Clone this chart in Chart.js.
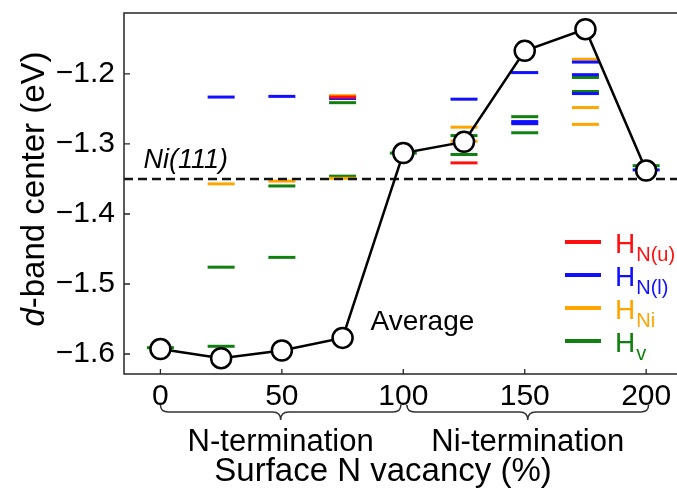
<!DOCTYPE html>
<html>
<head>
<meta charset="utf-8">
<script src="https://cdn.jsdelivr.net/npm/chart.js@4/dist/chart.umd.min.js"></script>
<style>
  html, body { margin: 0; padding: 0; background: #fff; }
  #wrap { position: relative; width: 677px; height: 488px; }
</style>
</head>
<body>
<div id="wrap"><canvas id="c" width="677" height="488"></canvas></div>
<script>
// Surface N vacancy (%) and the averaged d-band centre (eV)
const VACANCY = [0, 25, 50, 75, 100, 125, 150, 175, 200];
const AVERAGE = [-1.593, -1.606, -1.595, -1.577, -1.313, -1.297, -1.167, -1.136, -1.338];

// d-band centre for each H adsorption site, one short bar per configuration
const HNU_X = [75, 125];
const HNU_Y = [-1.233, -1.327];
const HNL_X = [25, 50, 75, 125, 150, 150, 150, 175, 175, 175, 200];
const HNL_Y = [-1.233, -1.232, -1.235, -1.236, -1.198, -1.268, -1.271, -1.183, -1.201, -1.228, -1.337];
const HNI_X = [25, 50, 75, 75, 125, 125, 175, 175, 175];
const HNI_Y = [-1.357, -1.353, -1.231, -1.349, -1.276, -1.296, -1.179, -1.248, -1.272];
const HV_X = [0, 25, 25, 50, 50, 75, 75, 100, 125, 125, 150, 150, 175, 175, 200];
const HV_Y = [-1.591, -1.476, -1.589, -1.360, -1.462, -1.241, -1.346, -1.313, -1.288, -1.315, -1.261, -1.284, -1.205, -1.225, -1.331];

// Ni(111) reference level
const NI111 = -1.35;

const X_TICKS = [0, 50, 100, 150, 200];
const Y_TICKS = [-1.6, -1.5, -1.4, -1.3, -1.2];

const SITE_SUBS = ['N(u)', 'N(l)', 'Ni', 'v'];
const SITE_COLORS = ['#ff1010', '#1010ff', '#ffa500', '#108010'];

const GROUP_NAMES = ['N-termination', 'Ni-termination'];
const GROUP_SPANS = [[0, 99], [101.5, 201]];

const FONT = "'Liberation Sans', Arial, Helvetica, sans-serif";

const pts = (xs, ys) => xs.map((x, i) => ({ x: x, y: ys[i] }));

function siteSet(label, xs, ys, color) {
  return {
    label: label,
    type: 'scatter',
    data: pts(xs, ys),
    pointStyle: 'line',
    pointRadius: 13.5,
    pointHoverRadius: 13.5,
    pointBorderWidth: 3,
    pointBorderColor: color,
    pointBackgroundColor: color,
    borderColor: color,
    showLine: false
  };
}

// keep the plot box exactly where the axes put it
function noPad(s) {
  s.paddingTop = 0;
  s.paddingBottom = 0;
  s.paddingLeft = 0;
  s.paddingRight = 0;
}

const decor = {
  id: 'decor',
  beforeDatasetDraw(chart, args) {
    if (args.index !== 0) return;
    // dashed Ni(111) reference, under the average curve
    const { ctx, chartArea: a, scales: { y } } = chart;
    const py = y.getPixelForValue(NI111);
    ctx.save();
    ctx.strokeStyle = '#111';
    ctx.lineWidth = 2.5;
    ctx.setLineDash([9, 5]);
    ctx.beginPath();
    ctx.moveTo(a.left, py);
    ctx.lineTo(a.right, py);
    ctx.stroke();
    ctx.restore();
  },
  afterDraw(chart) {
    const { ctx, chartArea: a, scales: { x, y } } = chart;
    ctx.save();

    // frame
    ctx.strokeStyle = '#262626';
    ctx.lineWidth = 1.5;
    ctx.beginPath();
    ctx.moveTo(a.right, a.top);
    ctx.lineTo(a.left, a.top);
    ctx.lineTo(a.left, a.bottom);
    ctx.lineTo(a.right, a.bottom);
    ctx.stroke();

    // inward tick marks
    ctx.lineWidth = 1.3;
    ctx.beginPath();
    Y_TICKS.forEach(v => {
      const py = y.getPixelForValue(v);
      ctx.moveTo(a.left, py);
      ctx.lineTo(a.left + 6, py);
    });
    X_TICKS.forEach(v => {
      const px = x.getPixelForValue(v);
      ctx.moveTo(px, a.bottom);
      ctx.lineTo(px, a.bottom - 5);
    });
    ctx.stroke();

    ctx.fillStyle = '#000';
    ctx.textBaseline = 'alphabetic';

    // Ni(111) label
    ctx.font = 'italic 27px ' + FONT;
    ctx.textAlign = 'left';
    ctx.fillText('Ni(111)', x.getPixelForValue(-7), y.getPixelForValue(NI111) - 11);

    // Average label
    ctx.font = '28px ' + FONT;
    ctx.fillText('Average', x.getPixelForValue(86.5), y.getPixelForValue(-1.566));

    // legend with subscripted site names
    const lx0 = a.right - 112, lx1 = a.right - 76, tx = a.right - 62;
    SITE_SUBS.forEach((sub, i) => {
      const ry = a.top + 229 + i * 33;
      ctx.strokeStyle = SITE_COLORS[i];
      ctx.lineWidth = 4;
      ctx.beginPath();
      ctx.moveTo(lx0, ry);
      ctx.lineTo(lx1, ry);
      ctx.stroke();
      ctx.fillStyle = SITE_COLORS[i];
      ctx.font = '28px ' + FONT;
      ctx.fillText('H', tx, ry + 11);
      const hw = ctx.measureText('H').width;
      ctx.font = '20px ' + FONT;
      ctx.fillText(sub, tx + hw + 1, ry + 19);
    });

    // braces and termination groups under the x axis
    ctx.strokeStyle = '#333';
    ctx.lineWidth = 1.5;
    ctx.fillStyle = '#000';
    GROUP_SPANS.forEach((span, i) => {
      const x0 = x.getPixelForValue(span[0]);
      const x1 = x.getPixelForValue(span[1]);
      const xm = (x0 + x1) / 2;
      const yTop = a.bottom + 31, yMid = a.bottom + 38, yTip = a.bottom + 46;
      const q = 8;
      ctx.beginPath();
      ctx.moveTo(x0, yTop);
      ctx.quadraticCurveTo(x0, yMid, x0 + q, yMid);
      ctx.lineTo(xm - q, yMid);
      ctx.quadraticCurveTo(xm, yMid, xm, yTip);
      ctx.quadraticCurveTo(xm, yMid, xm + q, yMid);
      ctx.lineTo(x1 - q, yMid);
      ctx.quadraticCurveTo(x1, yMid, x1, yTop);
      ctx.stroke();

      ctx.font = '31px ' + FONT;
      ctx.textAlign = 'center';
      ctx.fillText(GROUP_NAMES[i], xm, a.bottom + 77);
    });

    // x axis title
    ctx.font = '33px ' + FONT;
    ctx.textAlign = 'center';
    ctx.fillText('Surface N vacancy (%)', 383, a.bottom + 107);

    // y axis title, italic d
    ctx.save();
    ctx.translate(44, 189);
    ctx.rotate(-Math.PI / 2);
    ctx.font = 'italic 33px ' + FONT;
    const wd = ctx.measureText('d').width;
    ctx.font = '33px ' + FONT;
    const wr = ctx.measureText('-band center (eV)').width;
    const start = -(wd + wr) / 2;
    ctx.textAlign = 'left';
    ctx.font = 'italic 33px ' + FONT;
    ctx.fillText('d', start, 0);
    ctx.font = '33px ' + FONT;
    ctx.fillText('-band center (eV)', start + wd, 0);
    ctx.restore();

    ctx.restore();
  }
};

new Chart(document.getElementById('c'), {
  type: 'scatter',
  data: {
    datasets: [
      {
        label: 'Average',
        type: 'line',
        data: pts(VACANCY, AVERAGE),
        borderColor: '#000',
        borderWidth: 2.5,
        pointRadius: 10,
        pointHoverRadius: 10,
        pointBorderWidth: 2.5,
        pointBorderColor: '#000',
        pointBackgroundColor: '#fff',
        showLine: true,
        tension: 0
      },
      siteSet('H N(u)', HNU_X, HNU_Y, SITE_COLORS[0]),
      siteSet('H N(l)', HNL_X, HNL_Y, SITE_COLORS[1]),
      siteSet('H Ni', HNI_X, HNI_Y, SITE_COLORS[2]),
      siteSet('H v', HV_X, HV_Y, SITE_COLORS[3])
    ]
  },
  options: {
    responsive: false,
    animation: false,
    layout: { autoPadding: false, padding: { top: 13, right: 0, bottom: 0, left: 0 } },
    plugins: { legend: { display: false }, tooltip: { enabled: false } },
    scales: {
      x: {
        type: 'linear',
        min: -15,
        max: 212.7,
        afterFit(s) { s.height = 114; noPad(s); },
        afterBuildTicks(s) { s.ticks = X_TICKS.map(v => ({ value: v })); },
        grid: { display: false, drawTicks: false },
        border: { display: false },
        ticks: {
          padding: 5,
          autoSkip: false,
          maxRotation: 0,
          color: '#000',
          font: { size: 30, family: FONT }
        }
      },
      y: {
        type: 'linear',
        min: -1.6286,
        max: -1.1129,
        afterFit(s) { s.width = 124; noPad(s); },
        afterBuildTicks(s) { s.ticks = Y_TICKS.map(v => ({ value: v })); },
        grid: { display: false, drawTicks: false },
        border: { display: false },
        ticks: {
          padding: 9,
          color: '#000',
          font: { size: 30, family: FONT },
          callback: v => (v < 0 ? '\u2212' : '') + Math.abs(v).toFixed(1)
        }
      }
    }
  },
  plugins: [decor]
});
</script>
</body>
</html>
